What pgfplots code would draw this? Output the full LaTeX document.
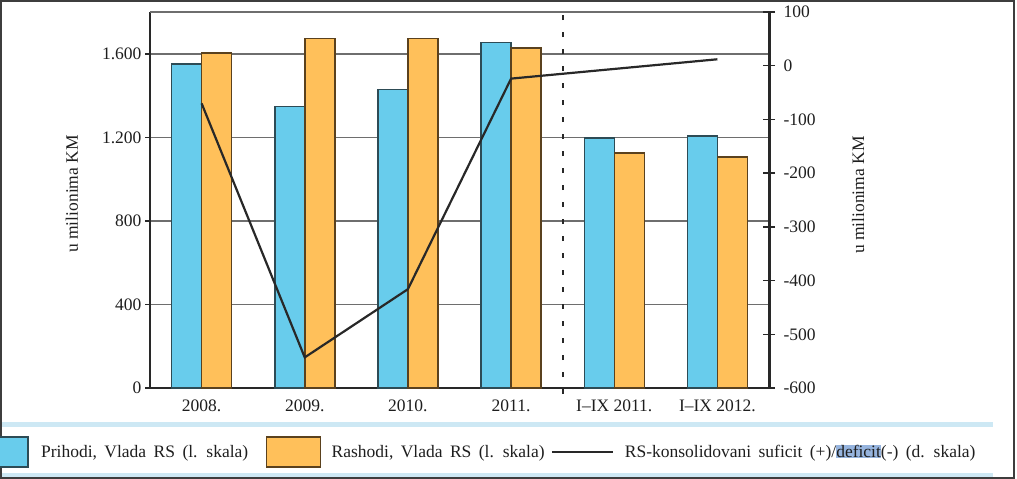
\documentclass[border=0pt]{standalone}
\usepackage{fontspec}
\setmainfont{Liberation Serif}
\newfontfamily\legfont[WordSpace=1.7]{Liberation Serif}
\usepackage{pgfplots}
\usepackage{pgfplotstable}
\pgfplotsset{compat=1.18}
\definecolor{barblue}{RGB}{104,204,236}
\definecolor{bluedraw}{RGB}{45,75,85}
\definecolor{barorange}{RGB}{255,192,90}
\definecolor{orangedraw}{RGB}{90,65,30}
\definecolor{gridgray}{RGB}{110,110,110}
\definecolor{axdark}{RGB}{40,40,40}
\definecolor{bandblue}{RGB}{205,232,244}
\definecolor{hl}{RGB}{150,180,222}
\definecolor{txt}{RGB}{30,30,30}

\pgfplotstableread{
x pri ras
0 1552 1604
1 1347 1674
2 1428 1674
3 1655 1628
4 1196 1124
5 1207 1107
}\bars
\pgfplotstableread{
x sal
0 -70
1 -543
2 -416
3 -24
4 -6
5 12
}\saldo

\pgfplotsset{
  legblue/.style={legend image code/.code={\draw[fill=barblue, draw=bluedraw, line width=1.5bp] (0bp,-15bp) rectangle (54bp,15bp); \path (67bp,0bp);}},
  legorange/.style={legend image code/.code={\path (-18bp,0bp); \draw[fill=barorange, draw=orangedraw, line width=1.5bp] (0bp,-15bp) rectangle (54bp,15bp); \path (65bp,0bp);}},
  legline/.style={legend image code/.code={\path (-6bp,0bp); \draw[axdark, line width=2.5bp] (0bp,0bp) -- (61bp,0bp); \path (72bp,0bp);}},
}

\begin{document}
\begin{tikzpicture}
\useasboundingbox (0,0) rectangle (1017bp,-479bp);
\fill[bandblue] (0,-422bp) rectangle (993bp,-427bp);
\fill[bandblue] (0,-472.5bp) rectangle (993bp,-476.5bp);
\draw[axdark!90, line width=2bp] (0.8bp,-0.8bp) rectangle (1014bp,-478bp);

\begin{axis}[
  at={(150bp,-388bp)}, anchor=south west,
  scale only axis, width=619bp, height=376bp,
  xmin=-0.5, xmax=5.5, ymin=0, ymax=1800,
  ybar=0pt, bar width=30bp,
  clip=false,
  axis x line*=bottom, axis y line*=left,
  axis line style={-, line width=2bp, axdark},
  xtick=data,
  xticklabels={2008.,2009.,2010.,2011.,I–IX 2011.,I–IX 2012.},
  xtick style={draw=none},
  tick align=outside,
  ytick={0,400,800,1200,1600},
  yticklabels={0,400,800,1.200,1.600},
  ymajorgrids, grid style={gridgray, line width=1.5bp},
  ytick style={axdark, line width=1.5bp},
  major tick length=5bp,
  ticklabel style={font=\fontsize{17.5bp}{20bp}\selectfont, text=txt},
  xticklabel style={yshift=-3bp},
  ylabel={u milionima KM},
  ylabel style={at={(axis description cs:-0.126,0.516)}, anchor=center, font=\fontsize{17.5bp}{20bp}\selectfont, text=txt},
]
\addplot[fill=barblue, draw=bluedraw, line width=1.5bp, bar shift=-15bp] table[x=x,y=pri]{\bars};
\addplot[fill=barorange, draw=orangedraw, line width=1.5bp, bar shift=15bp] table[x=x,y=ras]{\bars};
\draw[gridgray, line width=2bp] (rel axis cs:0,1) -- (rel axis cs:1,1);
\draw[axdark, line width=2bp, dash pattern=on 5bp off 12bp] ([yshift=-6bp]axis cs:3.5,0) -- (axis cs:3.5,1800);
\end{axis}

\begin{axis}[
  at={(150bp,-388bp)}, anchor=south west,
  scale only axis, width=619bp, height=376bp,
  xmin=-0.5, xmax=5.5, ymin=-600, ymax=100,
  axis x line=none, axis y line*=right,
  axis line style={-, line width=3bp, axdark},
  ytick={-600,-500,...,100},
  yticklabels={-600,-500,-400,-300,-200,-100,0,100},
  tick align=center, major tick length=12bp,
  ytick style={axdark, line width=1.5bp},
  yticklabel style={font=\fontsize{17.5bp}{20bp}\selectfont, text=txt, xshift=5bp},
  ylabel={u milionima KM},
  ylabel style={at={(axis description cs:1.144,0.513)}, anchor=center, font=\fontsize{17.5bp}{20bp}\selectfont, text=txt},
  legend columns=3,
  legend style={at={(axis description cs:-0.286,-0.170)}, anchor=west, draw=none, fill=none, inner sep=0pt,
    nodes={inner sep=0pt, text=txt, font=\legfont\fontsize{17.5bp}{20bp}\selectfont}, cells={anchor=west}},
]
\addlegendimage{legblue}
\addlegendentry{Prihodi, Vlada RS (l. skala)}
\addlegendimage{legorange}
\addlegendentry{Rashodi, Vlada RS (l. skala)}
\addplot[axdark, line width=2.2bp, legline] table[x=x,y=sal]{\saldo};
\addlegendentry{RS-konsolidovani suficit (+)/{\fboxsep=0pt\colorbox{hl}{deficit}}(-) (d. skala)}
\end{axis}
\end{tikzpicture}
\end{document}
